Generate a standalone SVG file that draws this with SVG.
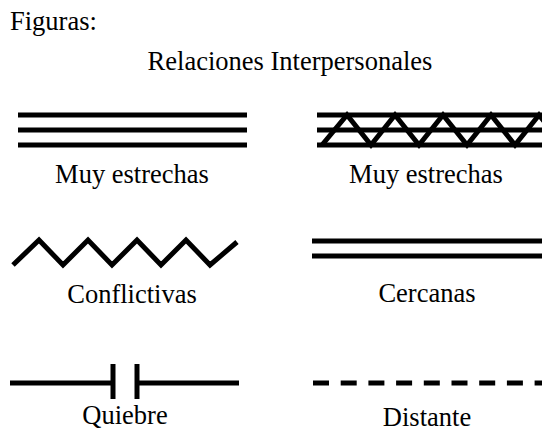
<svg xmlns="http://www.w3.org/2000/svg" width="542" height="431" viewBox="0 0 542 431">
<style>
  .t { font-family: "Liberation Serif", "Times New Roman", serif; font-size: 26.5px; fill: #000; }
  .c { text-anchor: middle; }
  .ln { stroke: #000; stroke-width: 5; fill: none; }
  .zz { stroke: #000; stroke-width: 5; fill: none; stroke-linejoin: miter; stroke-miterlimit: 10; }
</style>
<rect width="542" height="431" fill="#fff"/>
<text class="t" x="10" y="30">Figuras:</text>
<text class="t c" x="290" y="70">Relaciones Interpersonales</text>
<g id="connectors">
  <g id="muy-estrechas-1-lines">
    <line class="ln" x1="18" y1="115" x2="247" y2="115"/>
    <line class="ln" x1="18" y1="130" x2="247" y2="130"/>
    <line class="ln" x1="18" y1="145" x2="247" y2="145"/>
  </g>
  <g id="muy-estrechas-2-lines">
    <line class="ln" x1="317" y1="115" x2="542" y2="115"/>
    <line class="ln" x1="317" y1="130" x2="542" y2="130"/>
    <line class="ln" x1="317" y1="145" x2="542" y2="145"/>
    <polyline class="zz" points="322,145 347,115 371,145 395,115 419,145 443,115 467,145 491,115 515,145 539,115 563,145"/>
  </g>
  <polyline id="conflictivas-line" class="zz" points="13,265 39,240 63,265 88,240 112,265 137,240 161,265 186,240 210,265 237,242"/>
  <g id="cercanas-lines">
    <line class="ln" x1="312" y1="241" x2="542" y2="241"/>
    <line class="ln" x1="312" y1="256" x2="542" y2="256"/>
  </g>
  <g id="quiebre-line">
    <line class="ln" x1="10" y1="383" x2="113" y2="383"/>
    <line class="ln" x1="113" y1="364" x2="113" y2="399"/>
    <line class="ln" x1="137" y1="364" x2="137" y2="399"/>
    <line class="ln" x1="137" y1="383" x2="239" y2="383"/>
  </g>
  <line id="distante-line" class="ln" x1="313" y1="383" x2="542" y2="383" stroke-dasharray="16 11.7"/>
</g>
<g id="muy-estrechas-1"><text class="t c" x="132" y="183">Muy estrechas</text></g>
<g id="muy-estrechas-2"><text class="t c" x="426" y="183">Muy estrechas</text></g>
<g id="conflictivas"><text class="t c" x="132" y="303">Conflictivas</text></g>
<g id="cercanas"><text class="t c" x="427" y="302">Cercanas</text></g>
<g id="quiebre"><text class="t c" x="125" y="424">Quiebre</text></g>
<g id="distante"><text class="t c" x="427" y="426">Distante</text></g>
</svg>
